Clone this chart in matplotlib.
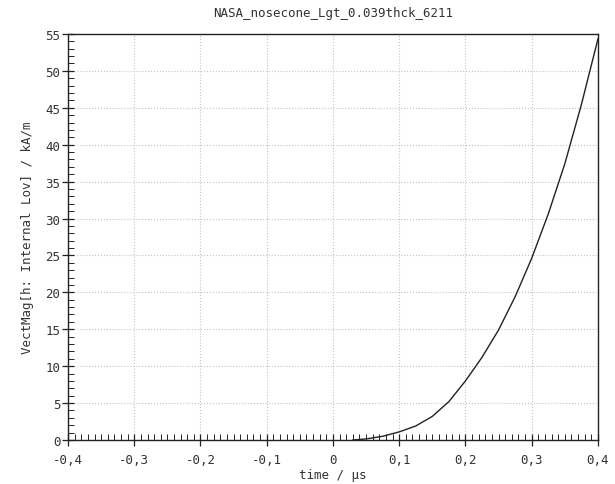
import numpy as np
import matplotlib.pyplot as plt
from matplotlib.ticker import MultipleLocator, FuncFormatter

# --- data ---
time_us = [0.03, 0.05, 0.075, 0.10, 0.125, 0.15, 0.175, 0.20, 0.225, 0.25,
           0.275, 0.30, 0.325, 0.35, 0.375, 0.40]
hmag_kam = [0.0, 0.15, 0.5, 1.1, 1.9, 3.2, 5.2, 8.0, 11.2, 14.9,
            19.4, 24.6, 30.6, 37.4, 45.4, 54.3]

title = "NASA_nosecone_Lgt_0.039thck_6211"
xlabel = "time / µs"
ylabel = "VectMag[h: Internal Lov] / kA/m"

plt.rcParams['font.family'] = ['DejaVu Sans Mono']
txt_col = '#333333'

fig = plt.figure(figsize=(6.15, 4.85), dpi=100)
ax = fig.add_axes([0.1106, 0.0907, 0.8616, 0.8373])

ax.plot(time_us, hmag_kam, color='#222222', lw=1.0)

ax.set_xlim(-0.4, 0.4)
ax.set_ylim(0, 55)

ax.xaxis.set_major_locator(MultipleLocator(0.1))
ax.xaxis.set_minor_locator(MultipleLocator(0.01))
ax.yaxis.set_major_locator(MultipleLocator(5))
ax.yaxis.set_minor_locator(MultipleLocator(1))

def comma_fmt(v, pos):
    if abs(v) < 1e-9:
        return "0"
    return f"{v:.1f}".replace('.', ',')

ax.xaxis.set_major_formatter(FuncFormatter(comma_fmt))

ax.tick_params(axis='both', which='major', direction='inout', length=9,
               width=0.9, labelsize=9, colors='#222222', labelcolor=txt_col)
ax.tick_params(axis='both', which='minor', direction='in', length=4,
               width=0.7, colors='#222222')
ax.tick_params(axis='x', which='major', pad=5)
ax.tick_params(axis='y', which='major', pad=1)

ax.grid(True, which='major', color='#c4c4c4', linestyle=':', linewidth=0.8)

for s in ax.spines.values():
    s.set_color('#222222')
    s.set_linewidth(1.0)

ax.set_title(title, fontsize=9, color=txt_col, pad=13)
ax.set_xlabel(xlabel, fontsize=9, color=txt_col, labelpad=1)
ax.set_ylabel(ylabel, fontsize=9, color=txt_col, labelpad=8)

fig.savefig('out.png', dpi=100)
